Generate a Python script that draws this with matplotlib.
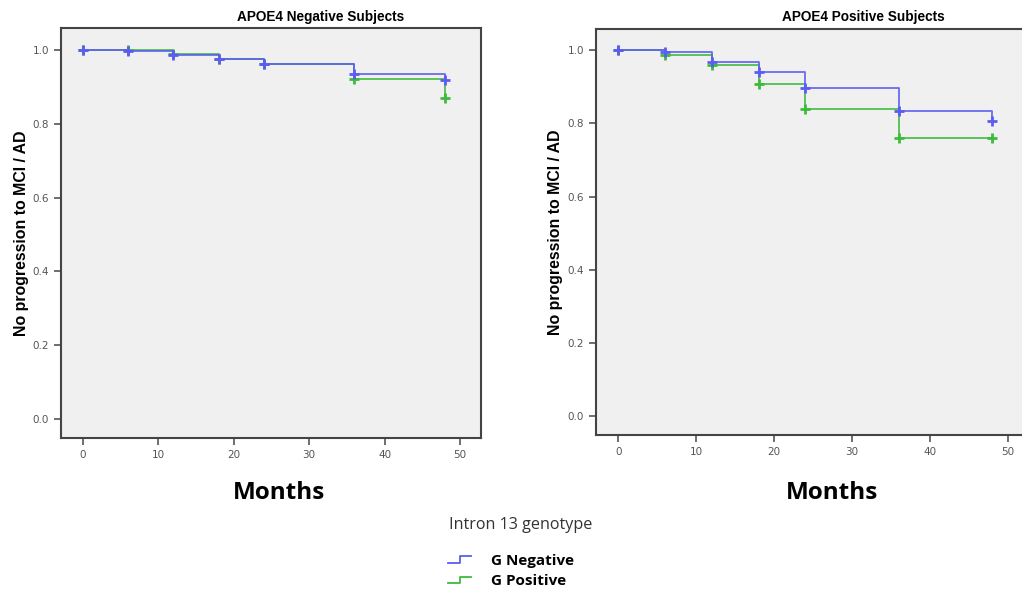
import numpy as np
import matplotlib.pyplot as plt
from matplotlib.lines import Line2D
from matplotlib.legend_handler import HandlerBase
from matplotlib.ticker import FormatStrFormatter

# follow-up times (months) where each curve steps / has a censor mark
months = [0, 6, 12, 18, 24, 36, 48]

# APOE4 negative subjects
neg_g_negative = [1.0, 0.997, 0.986, 0.974, 0.962, 0.934, 0.918]
neg_g_positive = [1.0, 0.999, 0.989, 0.976, 0.962, 0.921, 0.869]

# APOE4 positive subjects
pos_g_negative = [1.0, 0.995, 0.968, 0.941, 0.897, 0.834, 0.808]
pos_g_positive = [1.0, 0.988, 0.959, 0.908, 0.840, 0.759, 0.759]

groups = ["G Negative", "G Positive"]
colors = ["#5c5cf2", "#3dbb3d"]
titles = ["APOE4 Negative Subjects", "APOE4 Positive Subjects"]
yticks = [0.0, 0.2, 0.4, 0.6, 0.8, 1.0]
xticks = [0, 10, 20, 30, 40, 50]


class StepHandler(HandlerBase):
    # draws the little step icon SPSS uses in its legend
    def create_artists(self, legend, orig_handle, xdescent, ydescent,
                       width, height, fontsize, trans):
        w = width * 0.75
        xs = [0, w * 0.5, w * 0.5, w]
        ys = [height * 0.2, height * 0.2, height * 0.8, height * 0.8]
        line = Line2D(xs, ys, color=orig_handle.get_color(), lw=1.3)
        line.set_transform(trans)
        return [line]


fig = plt.figure(figsize=(10.22, 5.93), dpi=100)
ax1 = fig.add_axes([0.0597, 0.261, 0.411, 0.691])
ax2 = fig.add_axes([0.583, 0.266, 0.4247, 0.685])

panels = [(ax1, [neg_g_negative, neg_g_positive]),
          (ax2, [pos_g_negative, pos_g_positive])]

for i, (ax, series) in enumerate(panels):
    ax.set_facecolor("#f0f0f0")
    # green first so the blue curve sits on top, as in SPSS output
    for vals, col in list(zip(series, colors))[::-1]:
        ax.step(months, vals, where="post", color=col, lw=1.3, alpha=0.9)
        ax.plot(months, vals, ls="none", marker="+", ms=7.5, mew=2, color=col)
    ax.set_xlim(-2.9, 52.8)
    ax.set_ylim(-0.052, 1.058)
    ax.set_xticks(xticks)
    ax.set_yticks(yticks)
    ax.yaxis.set_major_formatter(FormatStrFormatter("%.1f"))
    ax.tick_params(colors="#555555", labelsize=7.5, length=5, width=1.2)
    for s in ax.spines.values():
        s.set_color("#444444")
        s.set_linewidth(1.5)
    if i == 1:
        ax.spines["right"].set_visible(False)
    ax.set_ylabel("No progression to MCI / AD", fontsize=11.4, fontweight="bold",
                  family="Liberation Sans", labelpad=3)
    ax.text(0.617, 1.012, titles[i], transform=ax.transAxes, ha="center",
            va="bottom", fontsize=9.8, fontweight="bold", family="Liberation Sans")

fig.text(0.273, 0.168, "Months", ha="center", va="center", fontsize=17.5,
         fontweight="bold", family="Open Sans")
fig.text(0.814, 0.168, "Months", ha="center", va="center", fontsize=17.5,
         fontweight="bold", family="Open Sans")

fig.text(0.509, 0.114, "Intron 13 genotype", ha="center", va="center",
         fontsize=11.6, color="#333333", family="Open Sans")

handles = [Line2D([], [], color=c) for c in colors]
fig.legend(handles, groups, loc="center", bbox_to_anchor=(0.5, 0.037),
           frameon=False, handler_map={Line2D: StepHandler()},
           prop={"family": "Open Sans", "weight": "bold", "size": 11},
           handlelength=2.0, handletextpad=0.8, labelspacing=0.4)

fig.savefig("out.png", dpi=100, facecolor="white")
